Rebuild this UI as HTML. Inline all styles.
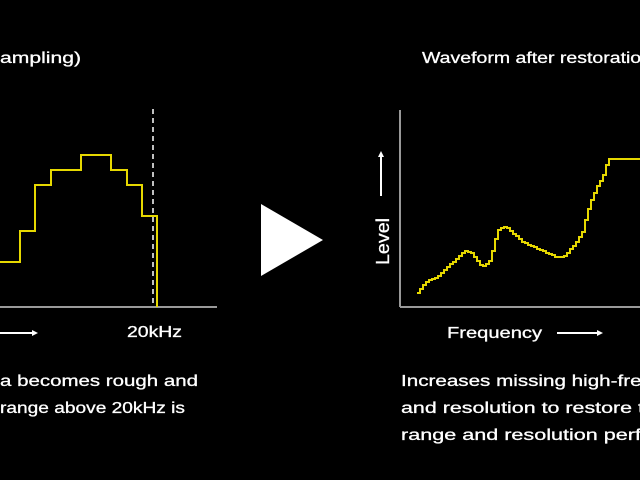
<!DOCTYPE html>
<html><head><style>html,body{margin:0;padding:0;background:#000;width:640px;height:480px;overflow:hidden}</style></head>
<body>
<svg width="640" height="480" viewBox="0 0 640 480" xmlns="http://www.w3.org/2000/svg" style="display:block">
<rect width="640" height="480" fill="#000"/>
<g font-family="Liberation Sans, sans-serif" fill="#fff" font-size="16" stroke="#fff" stroke-width="0.3">
<text x="0" y="63" textLength="81" lengthAdjust="spacingAndGlyphs">ampling)</text>
<text x="422" y="63" textLength="230" lengthAdjust="spacingAndGlyphs">Waveform after restoration</text>
<text x="127" y="337" textLength="55" lengthAdjust="spacingAndGlyphs">20kHz</text>
<text x="447" y="338" textLength="95" lengthAdjust="spacingAndGlyphs">Frequency</text>
<text transform="translate(389,265) rotate(-90)" font-size="18" textLength="47" lengthAdjust="spacingAndGlyphs">Level</text>
<text x="0" y="386" textLength="198" lengthAdjust="spacingAndGlyphs">a becomes rough and</text>
<text x="0" y="413" textLength="185" lengthAdjust="spacingAndGlyphs">range above 20kHz is</text>
<text x="401" y="386" textLength="252" lengthAdjust="spacingAndGlyphs">Increases missing high-freq</text>
<text x="401" y="413" textLength="243" lengthAdjust="spacingAndGlyphs">and resolution to restore t</text>
<text x="401" y="440" textLength="240" lengthAdjust="spacingAndGlyphs">range and resolution perf</text>
</g>
<g stroke="#fff" stroke-width="2" fill="#fff">
<line x1="0" y1="333" x2="34" y2="333"/><polygon points="38,333 32,330 32,336" stroke="none"/>
<line x1="557" y1="333" x2="599" y2="333"/><polygon points="603,333 597,330 597,336" stroke="none"/>
<line x1="381" y1="196" x2="381" y2="156"/><polygon points="381,151 378,157 384,157" stroke="none"/>
</g>
<line x1="0" y1="307" x2="217" y2="307" stroke="#999" stroke-width="2"/>
<line x1="400" y1="307" x2="640" y2="307" stroke="#999" stroke-width="2"/>
<line x1="400" y1="110" x2="400" y2="307" stroke="#999" stroke-width="2"/>
<line x1="153" y1="109" x2="153" y2="306" stroke="#fff" stroke-width="1.5" stroke-dasharray="5,4"/>
<polyline fill="none" stroke="#e6d800" stroke-width="2" points="0,262 20,262 20,231 35,231 35,185 51,185 51,170 81,170 81,155 111,155 111,170 127,170 127,185 142,185 142,216 157,216 157,307"/>
<polyline id="w" fill="none" stroke="#e6d800" stroke-width="2" points="417,293 425,282 437,277 464,251 470,252 482,267 490,260 497,230 505,226 522,242 540,250 556,257 563,257 575,244 582,232 589,205 595,190 603,175 608,159 640,159"/>
<polygon points="261,204 261,276 323,240" fill="#fff"/>
</svg>
<script>
(function(){
var p=[[417,293],[425,282],[437,277],[464,251],[470,252],[482,267],[490,260],[497,230],[505,226],[522,242],[540,250],[556,257],[563,257],[575,244],[582,232],[589,205],[595,190],[603,175],[608,159],[640,159]];
var out=[],x=p[0][0],y=p[0][1];out.push(x+","+y);
function f(X){for(var i=0;i<p.length-1;i++){if(X>=p[i][0]&&X<=p[i+1][0]){var t=(X-p[i][0])/(p[i+1][0]-p[i][0]);return p[i][1]+t*(p[i+1][1]-p[i][1]);}}return p[p.length-1][1];}
for(var X=417;X<=640;X+=3){var Y=Math.round(f(X));out.push(X+","+y);out.push(X+","+Y);y=Y;}
out.push("640,"+y);
document.getElementById("w").setAttribute("points",out.join(" "));
})();
</script>
</body></html>
